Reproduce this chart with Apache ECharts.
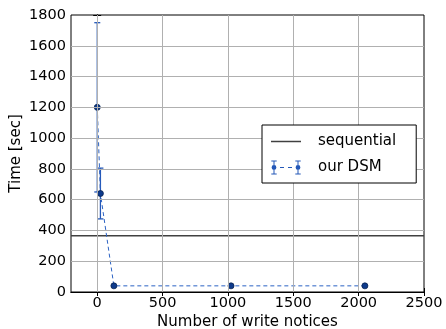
<!DOCTYPE html>
<html><head><meta charset="utf-8">
<script src="https://cdn.jsdelivr.net/npm/echarts@6/dist/echarts.min.js"></script>
<style>html,body{margin:0;padding:0;background:#fff}#c{width:446px;height:329px}</style>
</head><body><div id="c"></div>
<script>
const writeNotices = [1, 25, 128, 1024, 2048];
const timeMean = [1200, 640, 40, 40, 40];
const timeLow = [650, 475, 40, 40, 40];
const timeHigh = [1750, 805, 40, 40, 40];
const sequentialTime = 366;
const xTicks = [0, 500, 1000, 1500, 2000, 2500];
const yTicks = [0, 200, 400, 600, 800, 1000, 1200, 1400, 1600, 1800];

const FONT = 'DejaVu Sans';
const chart = echarts.init(document.getElementById('c'), null, {renderer: 'canvas'});

const dsmPath = 'path://M2.5 0H3.5V14H2.5Z M0.3 0H5.7V1H0.3Z M0.3 13H5.7V14H0.3Z M5.4 7A2.4 2.4 0 1 1 0.6 7A2.4 2.4 0 1 1 5.4 7Z ' +
  'M9 6.5H13V7.5H9Z M17 6.5H21V7.5H17Z ' +
  'M26.5 0H27.5V14H26.5Z M24.3 0H29.7V1H24.3Z M24.3 13H29.7V14H24.3Z M29.4 7A2.4 2.4 0 1 1 24.6 7A2.4 2.4 0 1 1 29.4 7Z';
const seqPath = 'path://M0 0H30V1.5H0Z';

const errData = writeNotices.map((x, i) => [x, timeLow[i], timeHigh[i]]);

const axisLine = {show: true, lineStyle: {color: '#000', width: 1}};
const labelStyle = {fontFamily: FONT, fontSize: 14.5, color: '#000', formatter: v => String(v)};

chart.setOption({
  animation: false,
  backgroundColor: '#fff',
  grid: {left: 71, right: 22, top: 15, bottom: 37, show: true, borderColor: '#000', borderWidth: 1,
         containLabel: false, outerBoundsMode: 'none'},
  legend: {
    orient: 'vertical', left: 262, top: 125, z: 20,
    backgroundColor: '#fff', borderColor: '#000', borderWidth: 1,
    padding: [9, 20, 8, 9], itemGap: 11, itemWidth: 30, itemHeight: 14,
    textStyle: {fontFamily: FONT, fontSize: 15, color: '#000', padding: [0, 0, 0, 12]},
    data: [
      {name: 'sequential', icon: seqPath, itemStyle: {color: '#404040', borderWidth: 0}},
      {name: 'our DSM', icon: dsmPath, itemStyle: {color: '#2458b8', borderWidth: 0}}
    ]
  },
  xAxis: [{
    type: 'value', min: -200, max: 2500,
    name: 'Number of write notices', nameLocation: 'middle', nameGap: 23, nameMoveOverlap: false,
    nameTextStyle: {fontFamily: FONT, fontSize: 15, color: '#000'},
    axisLine: axisLine,
    axisTick: {show: true, inside: true, length: 4, customValues: xTicks, lineStyle: {color: '#000'}},
    axisLabel: {show: true, customValues: xTicks, margin: 4, ...labelStyle},
    splitLine: {show: false}
  }, {
    type: 'value', min: -200, max: 2500, position: 'top',
    axisLine: axisLine,
    axisTick: {show: true, inside: true, length: 4, customValues: xTicks, lineStyle: {color: '#000'}},
    axisLabel: {show: false}, splitLine: {show: false}
  }],
  yAxis: [{
    type: 'value', min: 0, max: 1800, interval: 200,
    name: 'Time [sec]', nameLocation: 'middle', nameGap: 47, nameRotate: 90, nameMoveOverlap: false,
    nameTextStyle: {fontFamily: FONT, fontSize: 15, color: '#000'},
    axisLine: axisLine,
    axisTick: {show: true, inside: true, length: 4, lineStyle: {color: '#000'}},
    axisLabel: {show: true, margin: 5, ...labelStyle},
    splitLine: {show: false}
  }, {
    type: 'value', min: 0, max: 1800, interval: 200, position: 'right',
    axisLine: axisLine,
    axisTick: {show: true, inside: true, length: 4, lineStyle: {color: '#000'}},
    axisLabel: {show: false}, splitLine: {show: false}
  }],
  series: [
    {
      name: 'sequential', type: 'line', xAxisIndex: 0, yAxisIndex: 0,
      data: [[-200, sequentialTime], [2500, sequentialTime]],
      symbol: 'none', lineStyle: {color: '#404040', width: 1.5}, itemStyle: {color: '#404040'}, z: 3
    },
    {
      name: 'err', type: 'custom', xAxisIndex: 0, yAxisIndex: 0, z: 3,
      data: errData,
      renderItem: function (params, api) {
        const lo = api.value(1), hi = api.value(2);
        if (hi <= lo) return null;
        const p1 = api.coord([api.value(0), lo]);
        const p2 = api.coord([api.value(0), hi]);
        const w = 3;
        const st = {stroke: '#2458b8', lineWidth: 1.3};
        return {type: 'group', children: [
          {type: 'line', shape: {x1: p1[0], y1: p1[1], x2: p2[0], y2: p2[1]}, style: st},
          {type: 'line', shape: {x1: p1[0] - w, y1: p1[1], x2: p1[0] + w, y2: p1[1]}, style: st},
          {type: 'line', shape: {x1: p2[0] - w, y1: p2[1], x2: p2[0] + w, y2: p2[1]}, style: st}
        ]};
      }
    },
    {
      name: 'our DSM', type: 'line', xAxisIndex: 0, yAxisIndex: 0, z: 4,
      data: writeNotices.map((x, i) => [x, timeMean[i]]),
      symbol: 'circle', symbolSize: 6, showAllSymbol: true,
      lineStyle: {color: '#2b62c4', width: 1, type: [4, 3]},
      itemStyle: {color: '#0d3a8c', borderColor: '#08224f', borderWidth: 0.8}
    },
    {
      name: 'grid', type: 'line', xAxisIndex: 0, yAxisIndex: 0, data: [], z: 6, silent: true,
      markLine: {
        silent: true, symbol: 'none', animation: false,
        label: {show: false},
        lineStyle: {color: '#b0b0b0', width: 1, type: 'solid'},
        data: xTicks.filter(v => v > -200 && v < 2500).map(v => ({xAxis: v}))
          .concat(yTicks.filter(v => v > 0 && v < 1800).map(v => ({yAxis: v})))
      }
    }
  ]
});
</script></body></html>
